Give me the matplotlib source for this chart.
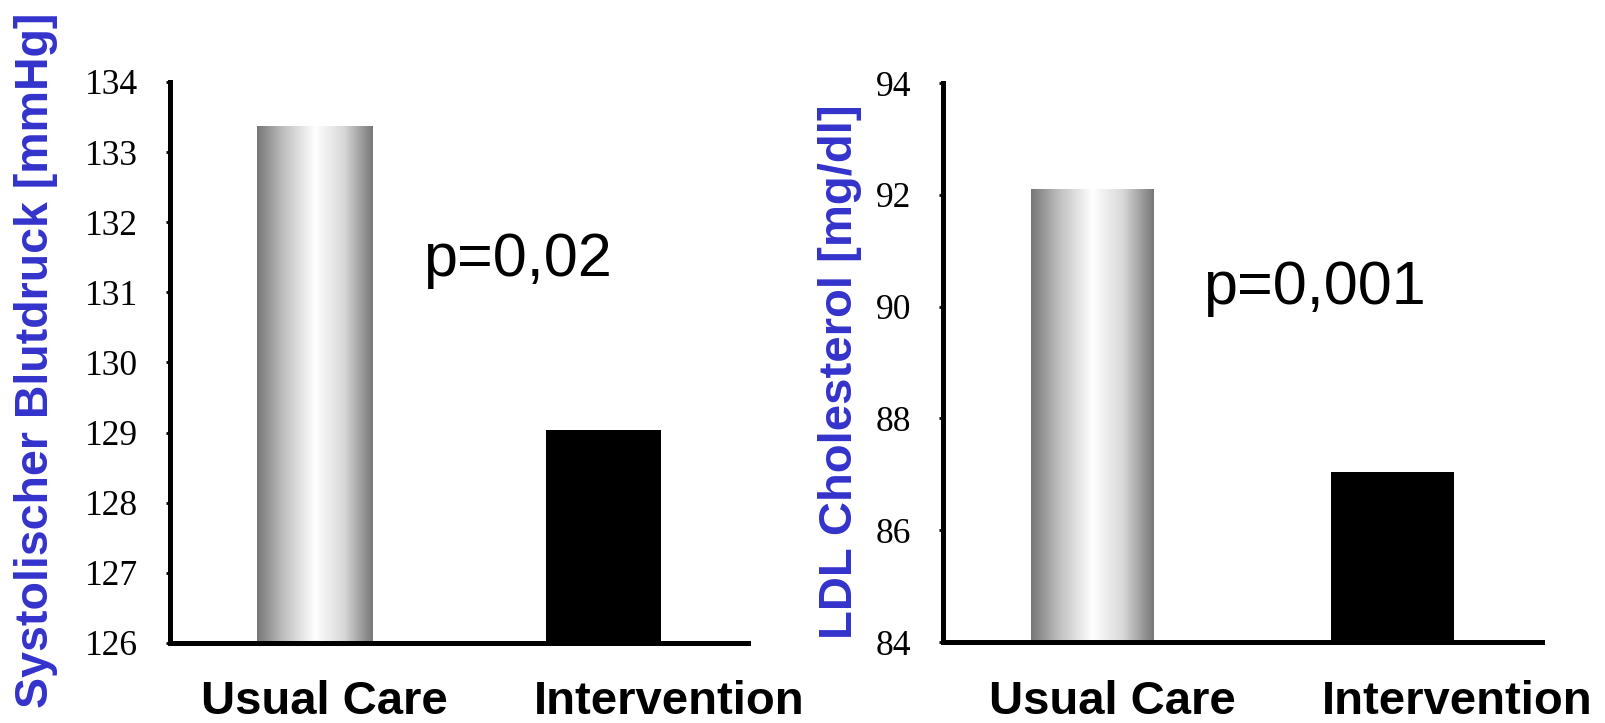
import matplotlib
matplotlib.use("Agg")
import matplotlib.pyplot as plt
import matplotlib.transforms as mtransforms
from matplotlib.colors import LinearSegmentedColormap
import numpy as np

# Data
groups = ["Usual Care", "Intervention"]
bp_values = [133.37, 129.04]          # systolic blood pressure, mmHg
ldl_values = [92.1, 87.04]            # LDL cholesterol, mg/dl
bp_ticks = [126, 127, 128, 129, 130, 131, 132, 133, 134]
ldl_ticks = [84, 86, 88, 90, 92, 94]
bp_label = "Systolischer Blutdruck [mmHg]"
ldl_label = "LDL Cholesterol [mg/dl]"
bp_pvalue = "p=0,02"
ldl_pvalue = "p=0,001"

BLUE = "#3333CC"
SPINE_W = 3.6

# cylinder-like shading for the first bar
cyl = LinearSegmentedColormap.from_list(
    "cyl", [(0.0, "#777777"), (0.22, "#bdbdbd"), (0.5, "#ffffff"),
            (0.75, "#d8d8d8"), (1.0, "#777777")])

fig = plt.figure(figsize=(16.05, 7.23), dpi=100)
ax1 = fig.add_axes([0.1059, 0.1107, 0.3601, 0.7759])
ax2 = fig.add_axes([0.5875, 0.1120, 0.3732, 0.7732])


def draw_panel(ax, values, ticks, width, ptext, pxy, label_shift):
    x = np.arange(len(values))
    bars = ax.bar(x, np.array(values) - ticks[0], width=width, bottom=ticks[0],
                  color=["none", "black"], edgecolor="none", zorder=2)
    # gradient fill clipped to the first bar
    b = bars[0]
    grad = np.linspace(0, 1, 256).reshape(1, -1)
    im = ax.imshow(grad, cmap=cyl, aspect="auto", zorder=1,
                   extent=[b.get_x(), b.get_x() + b.get_width(),
                           ticks[0], values[0]])
    im.set_clip_path(b)

    ax.set_xlim(-0.5, 1.5)
    ax.set_ylim(ticks[0], ticks[-1])
    ax.set_yticks(ticks)
    ax.set_yticklabels([str(t) for t in ticks], family="Liberation Serif",
                       fontsize=25.5)
    ax.set_xticks(x)
    ax.set_xticklabels(groups, family="Liberation Sans", fontweight="bold",
                       fontsize=34)
    ax.tick_params(axis="y", length=3, width=2, pad=20, direction="out")
    ax.tick_params(axis="x", length=0, pad=27)
    for lab, dx in zip(ax.get_xticklabels(), label_shift):
        off = mtransforms.ScaledTranslation(dx / 100, 0, fig.dpi_scale_trans)
        lab.set_transform(lab.get_transform() + off)

    for s in ["top", "right"]:
        ax.spines[s].set_visible(False)
    for s in ["left", "bottom"]:
        ax.spines[s].set_linewidth(SPINE_W)
        ax.spines[s].set_capstyle("projecting")

    ax.text(pxy[0], pxy[1], ptext, family="Liberation Sans", fontsize=44,
            ha="left", va="baseline")


draw_panel(ax1, bp_values, bp_ticks, 0.40, bp_pvalue, (0.375, 131.24),
           [9.5, 66])
draw_panel(ax2, ldl_values, ldl_ticks, 0.41, ldl_pvalue, (0.368, 90.05),
           [19.5, 65])

fig.text(0.0224, 0.502, bp_label, rotation=90, ha="center", va="center",
         color=BLUE, family="Liberation Sans", fontweight="bold", fontsize=33.5)
fig.text(0.5234, 0.4855, ldl_label, rotation=90, ha="center", va="center",
         color=BLUE, family="Liberation Sans", fontweight="bold", fontsize=34)

fig.savefig("out.png", dpi=100)
